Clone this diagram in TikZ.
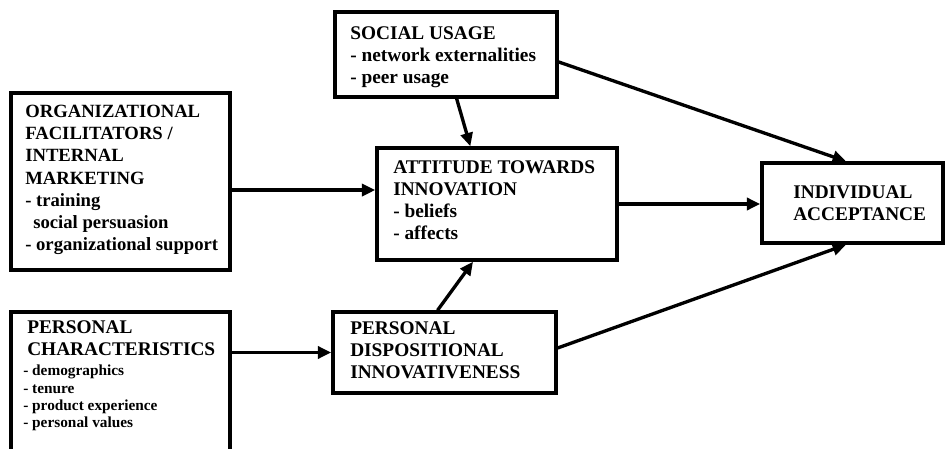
\documentclass[tikz,border=0pt]{standalone}
\usepackage{fontspec}
\setmainfont{Liberation Serif}
\usetikzlibrary{fit,arrows.meta}
\begin{document}
\begin{tikzpicture}[x=0.75pt,y=-0.75pt,
  box/.style={draw,line width=2.6pt,inner sep=0pt,rectangle},
  txt/.style={anchor=north west,inner sep=0pt,align=left,
    font=\fontsize{14.5}{16.5}\selectfont\bfseries},
  small/.style={anchor=north west,inner sep=0pt,align=left,
    font=\fontsize{11.5}{13}\selectfont\bfseries},
  arr/.style={line width=2.5pt,-{Triangle[length=10pt,width=9pt]}}]
\useasboundingbox (0,0) rectangle (947,449);
\clip (0,0) rectangle (947,449);

% boxes
\node[box,fit={(11,93)(230,270)}] (org) {};
\node[box,fit={(11,312)(230,470)}] (pc) {};
\node[box,fit={(335,12)(557,97)}] (su) {};
\node[box,fit={(377,148)(617,260)}] (att) {};
\node[box,fit={(333,312)(556,393)}] (pd) {};
\node[box,fit={(762,163)(943,243)}] (ind) {};

% box texts
\node[txt,font=\fontsize{14}{16.6}\selectfont\bfseries] (orgt) at (25,105)
  {ORGANIZATIONAL\\FACILITATORS /\\INTERNAL\\MARKETING\\- training\\\hspace{6pt}social persuasion\\- organizational support};
\node[txt] (pct) at (27,320) {PERSONAL\\CHARACTERISTICS};
\node[small] (pci) at (23,365) {- demographics\\- tenure\\- product experience\\- personal values};
\node[txt] (sut) at (350,26) {SOCIAL USAGE\\- network externalities\\- peer usage};
\node[txt] (attt) at (393,160) {ATTITUDE TOWARDS\\INNOVATION\\- beliefs\\- affects};
\node[txt] (pdt) at (350,321) {PERSONAL\\DISPOSITIONAL\\INNOVATIVENESS};
\node[txt] (indt) at (793,185) {INDIVIDUAL\\ACCEPTANCE};

% connectors
\draw[arr] ([yshift=-6.4pt]org.east) coordinate (oa) -- (oa -| att.west);
\draw[arr] (att.east) -- (att.east -| ind.west);
\draw[arr] (pd.west -| pc.east) -- (pd.west);
\draw[arr] ([xshift=8pt]su.south) -- ([xshift=-20pt]att.north);
\draw[arr] ([xshift=-5.2pt]pd.north) -- ([xshift=-18pt]att.south);
\draw[arr] ([yshift=-5.6pt]su.east) -- ([xshift=-4.9pt]ind.north);
\draw[arr] ([yshift=3.4pt]pd.east) -- ([xshift=-4.9pt]ind.south);
\end{tikzpicture}
\end{document}
